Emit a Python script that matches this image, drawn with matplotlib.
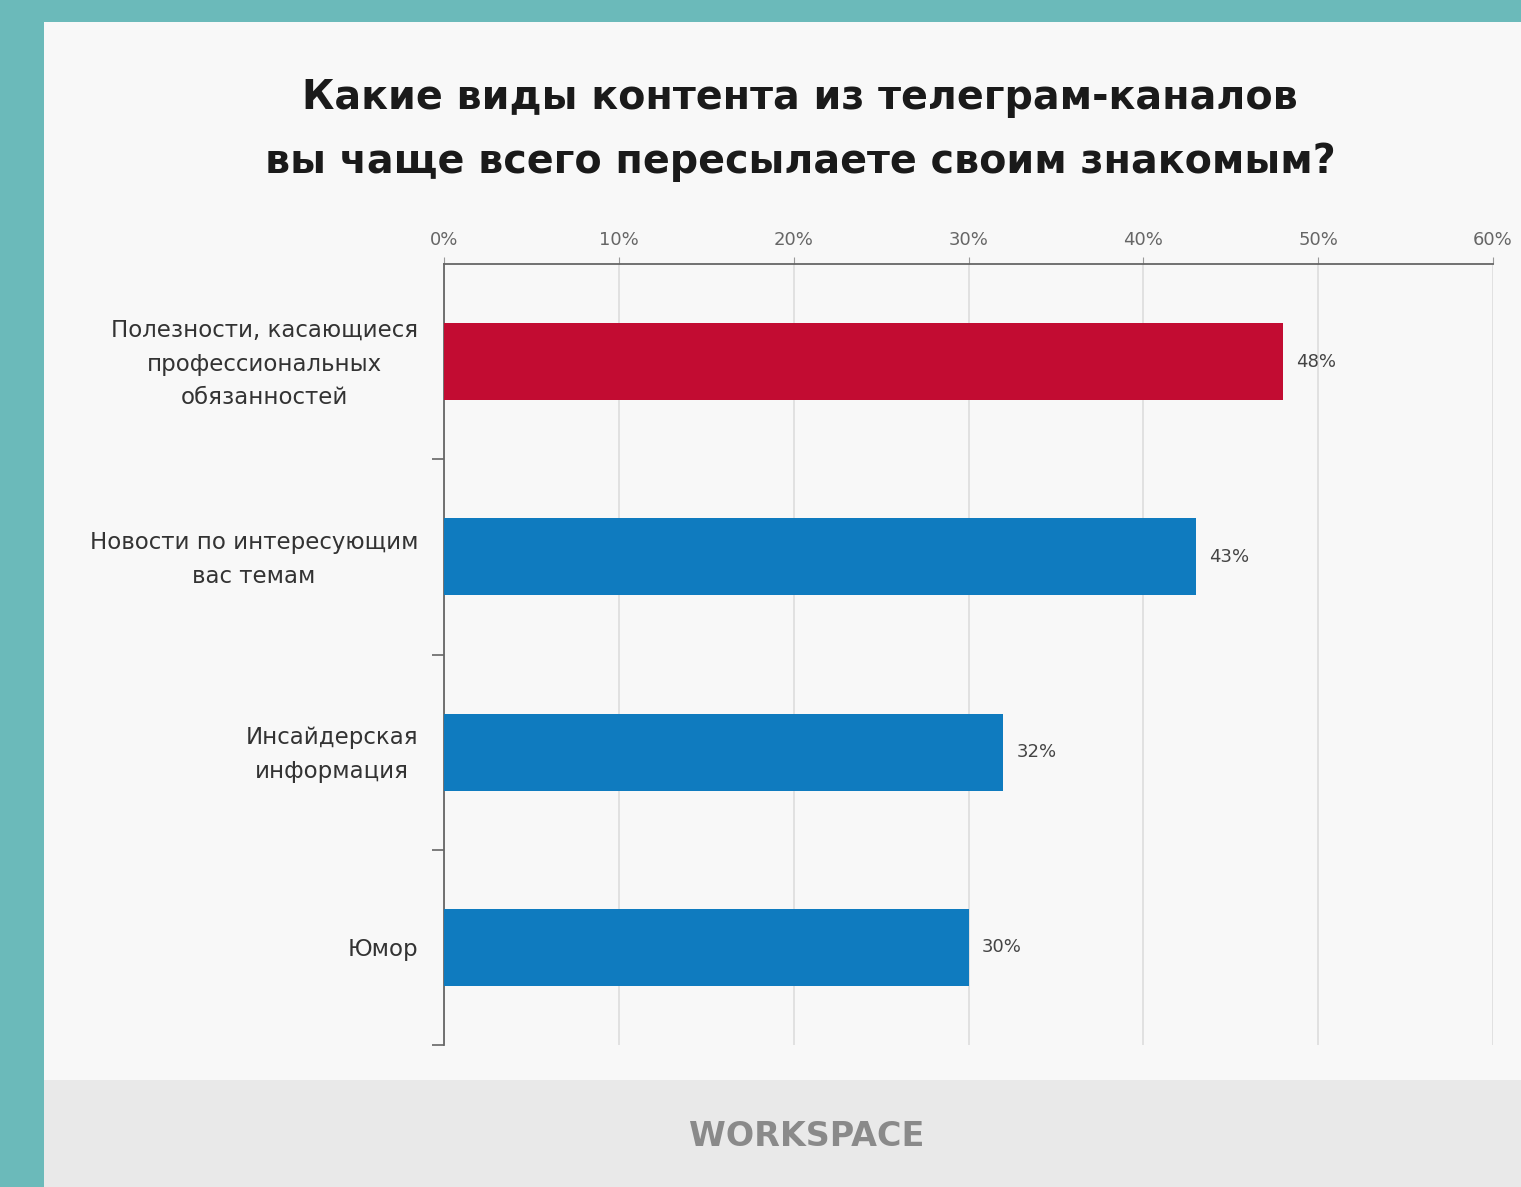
import matplotlib
matplotlib.use("Agg")
import matplotlib.pyplot as plt
from matplotlib.patches import Rectangle
from matplotlib.transforms import blended_transform_factory, offset_copy

categories = ["Полезности, касающиеся\nпрофессиональных\nобязанностей",
              "Новости по интересующим\nвас темам",
              "Инсайдерская\nинформация",
              "Юмор"]
values = [48, 43, 32, 30]
colors = ["#c20c32", "#0f7bbf", "#0f7bbf", "#0f7bbf"]
xticks = [0, 10, 20, 30, 40, 50, 60]
xtick_labels = ["0%", "10%", "20%", "30%", "40%", "50%", "60%"]
title = "Какие виды контента из телеграм-каналов\nвы чаще всего пересылаете своим знакомым?"

W, H = 1521, 1187
fig = plt.figure(figsize=(W/100, H/100), dpi=100)
fig.patch.set_facecolor("#6bbaba")

# panel and footer
fig.patches.append(Rectangle((44/W, (H-1080)/H), 1, (1080-22)/H, transform=fig.transFigure,
                             facecolor="#f8f8f8", edgecolor="none", zorder=-10))
fig.patches.append(Rectangle((44/W, 0), 1, (1187-1080)/H, transform=fig.transFigure,
                             facecolor="#e9e9e9", edgecolor="none", zorder=-10))

x0, x1 = 444, 1493
y0, y1 = 264, 1045
ax = fig.add_axes([x0/W, (H-y1)/H, (x1-x0)/W, (y1-y0)/H])
ax.set_facecolor("none")
ax.set_xlim(0, 60)
ax.set_ylim(len(categories), 0)

ypos = [i + 0.5 for i in range(len(categories))]
ax.barh(ypos, values, height=0.395, color=colors, zorder=3)
for y, v in zip(ypos, values):
    ax.text(v + 0.75, y, f"{v}%", va="center", ha="left", fontsize=13,
            color="#444444", zorder=4)

ax.xaxis.tick_top()
ax.set_xticks(xticks)
ax.set_xticklabels(xtick_labels, fontsize=13, color="#666666")
ax.tick_params(axis="x", length=5, color="#999999", pad=6)
ax.grid(axis="x", color="#dddddd", linewidth=1.2, zorder=1)

ax.set_yticks(range(1, len(categories) + 1))
ax.set_yticklabels([])
ax.tick_params(axis="y", which="major", length=9, color="#666666", width=1.2)

trans = offset_copy(blended_transform_factory(ax.transAxes, ax.transData),
                    fig=fig, x=-26, y=-2.5, units="dots")
for y, lab in zip(ypos, categories):
    ax.text(0, y, lab, transform=trans, ha="right", va="center", fontsize=16.5,
            color="#333333", multialignment="center", linespacing=1.6)

for s in ["right", "bottom"]:
    ax.spines[s].set_visible(False)
ax.spines["top"].set_color("#666666")
ax.spines["top"].set_linewidth(1.3)
ax.spines["left"].set_color("#666666")
ax.spines["left"].set_linewidth(1.3)

fig.text(800/W, 1 - 130/H, title, ha="center", va="center", fontsize=28.5,
         fontweight="bold", color="#1a1a1a", linespacing=1.75)

fig.text(807/W, 1 - 1137/H, "WORKSPACE", ha="center", va="center", fontsize=24,
         fontweight="bold", color="#8a8a8a")

fig.savefig("out.png", dpi=100, facecolor=fig.get_facecolor())
